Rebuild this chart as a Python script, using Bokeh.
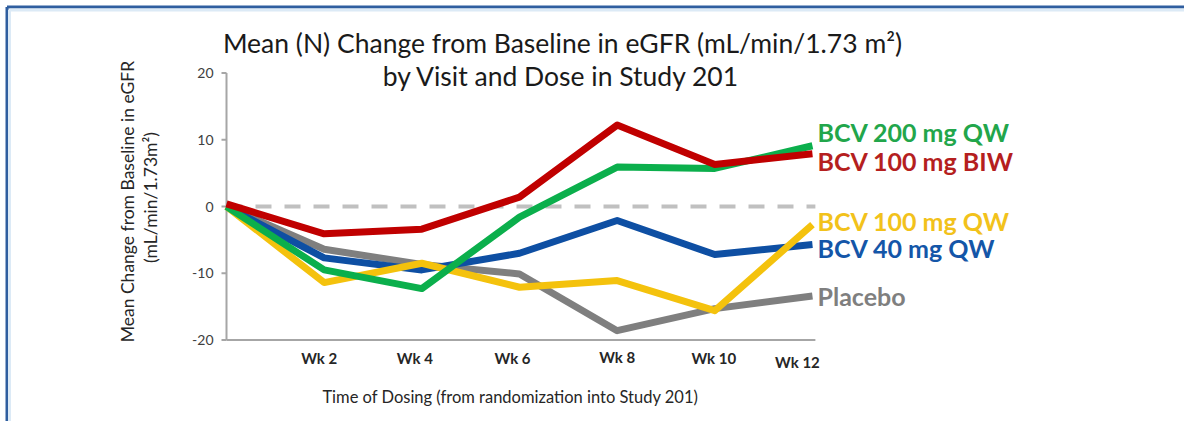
from bokeh.plotting import figure
from bokeh.models import Range1d
from bokeh.core.properties import value
from bokeh.embed import file_html
from bokeh.resources import INLINE
import math

# ---- data ----
weeks = [0, 2, 4, 6, 8, 10, 12]
tick_weeks = [2, 4, 6, 8, 10, 12]
tick_labels = ["Wk 2", "Wk 4", "Wk 6", "Wk 8", "Wk 10", "Wk 12"]
y_ticks = [-20, -10, 0, 10, 20]
y_tick_labels = ["-20", "-10", "0", "10", "20"]

placebo = [0, -6.4, -8.7, -10.1, -18.6, -15.3, -13.4]
bcv40_qw = [0, -7.7, -9.5, -7.0, -2.1, -7.2, -5.7]
bcv100_qw = [0, -11.4, -8.5, -12.1, -11.1, -15.6, -2.7]
bcv200_qw = [0, -9.5, -12.3, -1.6, 5.9, 5.7, 9.1]
bcv100_biw = [0.4, -4.1, -3.4, 1.4, 12.2, 6.3, 7.9]

series_names = ["Placebo", "BCV 40 mg QW", "BCV 100 mg QW", "BCV 200 mg QW", "BCV 100 mg BIW"]
series_values = [placebo, bcv40_qw, bcv100_qw, bcv200_qw, bcv100_biw]

# ---- styles / layout geometry (pixels) ----
line_colors = ["#7F7F7F", "#0E4FA3", "#F4C20D", "#0BAF4C", "#C00000"]
text_colors = ["#7F7F7F", "#1456A8", "#F2C21B", "#22A64B", "#B51F1F"]
label_py = [295, 247, 220, 131, 160]      # vertical pixel centres of series labels

FONT = "Lato"
W, H = 1184, 421
X0PIX, XPX = 226.0, 48.83   # pixel of week 0, pixels per week
Y0PIX, YPX = 206.0, 6.675   # pixel of value 0, pixels per unit
Y_MIN, Y_MAX = -20, 20
X_END = 12.06


def px2x(px):
    return (px - X0PIX) / XPX


def px2y(py):
    return (Y0PIX - py) / YPX


p = figure(width=W, height=H, output_backend="svg", toolbar_location=None,
           x_range=Range1d(px2x(0), px2x(W)), y_range=Range1d(px2y(H), px2y(0)),
           min_border=0, background_fill_color="white",
           border_fill_color="white", outline_line_color=None)
p.axis.visible = False
p.grid.visible = False

AX_COL = "#A6A6A6"
# window border (top / left)
p.segment(x0=[px2x(6.5), px2x(6.5)], y0=[px2y(6.5), px2y(6.5)],
          x1=[px2x(W), px2x(6.5)], y1=[px2y(6.5), px2y(H)],
          line_color="#2F5E9F", line_width=3)
p.segment(x0=[px2x(9), px2x(9)], y0=[px2y(9.5), px2y(9.5)],
          x1=[px2x(W), px2x(9)], y1=[px2y(9.5), px2y(H)],
          line_color="#DCEAF6", line_width=3)

# axes
p.segment(x0=[0, 0], y0=[Y_MIN, Y_MIN], x1=[0, X_END], y1=[Y_MAX, Y_MIN],
          line_color=AX_COL, line_width=2)
p.segment(x0=[px2x(X0PIX - 5)] * len(y_ticks), y0=y_ticks,
          x1=[0] * len(y_ticks), y1=y_ticks, line_color=AX_COL, line_width=2)
p.text(x=[px2x(X0PIX - 13)] * len(y_ticks), y=y_ticks, text=y_tick_labels,
       text_font=value(FONT), text_font_size="14px", text_color="#404040",
       text_align="right", text_baseline="middle")

# zero reference line
p.line([0, X_END], [0, 0], line_color="#C0C0C0", line_width=4, line_dash="16 13")

# series lines
for vals, col in zip(series_values, line_colors):
    p.line(weeks, vals, line_color=col, line_width=7, line_join="round")

# series labels at right
p.text(x=[px2x(817)] * len(series_names), y=[px2y(v) for v in label_py],
       text=series_names, text_color=text_colors,
       text_font=value(FONT), text_font_style="bold", text_font_size="25px",
       text_align="left", text_baseline="middle")

# x tick labels
tick_dx = [-5, -7, -7, 0, -1, -15]
tick_py = [357, 357, 357, 356, 357, 361]
p.text(x=[w + d / XPX for w, d in zip(tick_weeks, tick_dx)], y=[px2y(v) for v in tick_py],
       text=tick_labels, text_font=value(FONT), text_font_size="15px",
       text_color="#262626", text_font_style="bold",
       text_align="center", text_baseline="middle")

# axis titles
p.text(x=[px2x(510)], y=[px2y(396)], text=["Time of Dosing (from randomization into Study 201)"],
       text_font=value(FONT), text_font_size="16.5px", text_color="#262626",
       text_align="center", text_baseline="middle")
p.text(x=[px2x(127), px2x(150)], y=[px2y(201), px2y(197)],
       text=["Mean Change from Baseline in eGFR", "(mL/min/1.73m\u00b2)"],
       angle=math.pi / 2, text_font=value(FONT), text_font_size="17.5px",
       text_color="#262626", text_align="center", text_baseline="middle")

# chart title (two lines)
p.text(x=[px2x(562), px2x(561)], y=[px2y(42), px2y(75)],
       text=["Mean (N) Change from Baseline in eGFR (mL/min/1.73 m\u00b2)",
             "by Visit and Dose in Study 201"],
       text_font=value(FONT), text_font_size="26.5px", text_color="#1A1A1A",
       text_align="center", text_baseline="middle")

open("out.html", "w").write(file_html(p, INLINE))
